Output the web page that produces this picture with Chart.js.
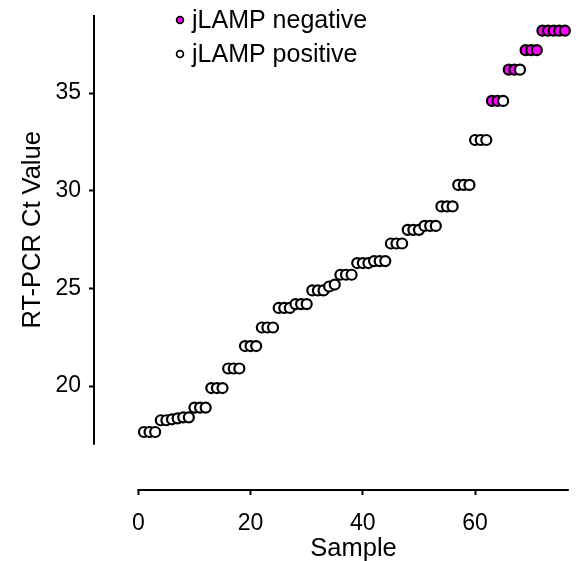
<!DOCTYPE html>
<html>
<head>
<meta charset="utf-8">
<script src="https://cdn.jsdelivr.net/npm/chart.js@4.4.1/dist/chart.umd.min.js"></script>
<style>
  body { margin: 0; background: #fff; }
  #wrap { width: 576px; height: 561px; position: relative; }
</style>
</head>
<body>
<div id="wrap"><canvas id="ctChart"></canvas></div>
<script>
// samples sorted by RT-PCR Ct value
const samples = [1, 2, 3, 4, 5, 6, 7, 8, 9, 10, 11, 12, 13, 14, 15, 16, 17, 18, 19, 20,
    21, 22, 23, 24, 25, 26, 27, 28, 29, 30, 31, 32, 33, 34, 35, 36, 37, 38, 39, 40,
    41, 42, 43, 44, 45, 46, 47, 48, 49, 50, 51, 52, 53, 54, 55, 56, 57, 58, 59, 60,
    61, 62, 63, 64, 65, 66, 67, 68, 69, 70, 71, 72, 73, 74, 75, 76];
const ctValues = [17.65, 17.65, 17.65,
    18.25, 18.25, 18.3, 18.35, 18.4, 18.4,
    18.9, 18.9, 18.9,
    19.9, 19.9, 19.9,
    20.9, 20.9, 20.9,
    22.05, 22.05, 22.05,
    23.0, 23.0, 23.0,
    24.0, 24.0, 24.0,
    24.2, 24.2, 24.2,
    24.9, 24.9, 24.9,
    25.1, 25.2,
    25.7, 25.7, 25.7,
    26.3, 26.3, 26.3, 26.4, 26.4, 26.4,
    27.3, 27.3, 27.3,
    28.0, 28.0, 28.0, 28.2, 28.2, 28.2,
    29.2, 29.2, 29.2,
    30.3, 30.3, 30.3,
    32.6, 32.6, 32.6,
    34.6, 34.6, 34.6,
    36.2, 36.2, 36.2,
    37.2, 37.2, 37.2,
    38.2, 38.2, 38.2, 38.2, 38.2];
// samples the jLAMP assay called negative
const jlampNegative = [63, 64, 66, 67, 69, 70, 71, 72, 73, 74, 75, 76];

const legendLabels = ['jLAMP negative', 'jLAMP positive'];
const xTitle = 'Sample';
const yTitle = 'RT-PCR Ct Value';
const xTickValues = [0, 20, 40, 60];
const yTickValues = [20, 25, 30, 35];
const xAxisSpan = [0, 76.7];
const yAxisSpan = [17, 39];

const NEG_COLOR = '#ff00ff';
const POS_COLOR = '#ffffff';
const FONT = '"Liberation Sans", Arial, sans-serif';

const points = samples.map((s, i) => ({ x: s, y: ctValues[i] }));
const fillColors = samples.map(s => jlampNegative.includes(s) ? NEG_COLOR : POS_COLOR);

// Prism-style detached axis lines, axis titles and the little legend in the corner
const axisPlugin = {
    id: 'axisLines',
    beforeDatasetsDraw(chart) {
        const { ctx, chartArea, scales: { x, y } } = chart;
        ctx.save();
        ctx.strokeStyle = '#000';
        ctx.lineWidth = 2;
        ctx.beginPath();
        ctx.moveTo(chartArea.left, y.getPixelForValue(yAxisSpan[0]));
        ctx.lineTo(chartArea.left, y.getPixelForValue(yAxisSpan[1]));
        ctx.moveTo(x.getPixelForValue(xAxisSpan[0]) - 1, chartArea.bottom);
        ctx.lineTo(x.getPixelForValue(xAxisSpan[1]), chartArea.bottom);
        ctx.stroke();
        ctx.restore();
    },
    afterDraw(chart) {
        const { ctx, scales: { x, y } } = chart;
        ctx.save();
        ctx.fillStyle = '#000';
        ctx.textAlign = 'center';
        ctx.textBaseline = 'middle';
        ctx.font = '25.5px ' + FONT;
        const xMid = (x.getPixelForValue(xAxisSpan[0]) + x.getPixelForValue(xAxisSpan[1])) / 2;
        ctx.fillText(xTitle, xMid, 549);
        const yMid = (y.getPixelForValue(yAxisSpan[0]) + y.getPixelForValue(yAxisSpan[1])) / 2;
        ctx.save();
        ctx.translate(33, yMid);
        ctx.rotate(-Math.PI / 2);
        ctx.fillText(yTitle, 0, 0);
        ctx.restore();

        const rows = [20, 54];
        ctx.font = '25px ' + FONT;
        ctx.textAlign = 'left';
        legendLabels.forEach((label, i) => {
            ctx.beginPath();
            ctx.arc(180, rows[i], 3.4, 0, Math.PI * 2);
            ctx.fillStyle = i === 0 ? NEG_COLOR : POS_COLOR;
            ctx.fill();
            ctx.lineWidth = 1.7;
            ctx.strokeStyle = '#000';
            ctx.stroke();
            ctx.fillStyle = '#000';
            ctx.fillText(label, 192, rows[i] + 1);
        });
        ctx.restore();
    }
};

new Chart(document.getElementById('ctChart'), {
    type: 'scatter',
    data: {
        datasets: [{
            label: 'Ct',
            data: points,
            pointRadius: 5,
            pointHoverRadius: 5,
            pointBorderWidth: 2.2,
            pointBorderColor: '#000',
            pointBackgroundColor: fillColors,
            clip: false
        }]
    },
    options: {
        responsive: true,
        maintainAspectRatio: false,
        animation: false,
        layout: { padding: { top: 15, right: 0, bottom: 0, left: 0 } },
        plugins: {
            legend: { display: false },
            tooltip: { enabled: false }
        },
        scales: {
            x: {
                type: 'linear',
                min: -7.9,
                max: 76.7,
                afterBuildTicks: s => { s.ticks = xTickValues.map(v => ({ value: v })); },
                afterFit: s => { s.height = 71; s.paddingLeft = 0; s.paddingRight = 0; },
                border: { display: false },
                grid: { display: true, drawOnChartArea: false, drawTicks: true, tickLength: 5, tickWidth: 2, tickColor: '#000' },
                ticks: { color: '#000', padding: 15, font: { family: FONT, size: 23 }, maxRotation: 0 }
            },
            y: {
                min: 14.68,
                max: 39,
                afterBuildTicks: s => { s.ticks = yTickValues.map(v => ({ value: v })); },
                afterFit: s => { s.width = 94; s.paddingTop = 0; s.paddingBottom = 0; },
                border: { display: false },
                grid: { display: true, drawOnChartArea: false, drawTicks: true, tickLength: 5, tickWidth: 2, tickColor: '#000' },
                ticks: { color: '#000', padding: 8, font: { family: FONT, size: 23 } }
            }
        }
    },
    plugins: [axisPlugin]
});
</script>
</body>
</html>
